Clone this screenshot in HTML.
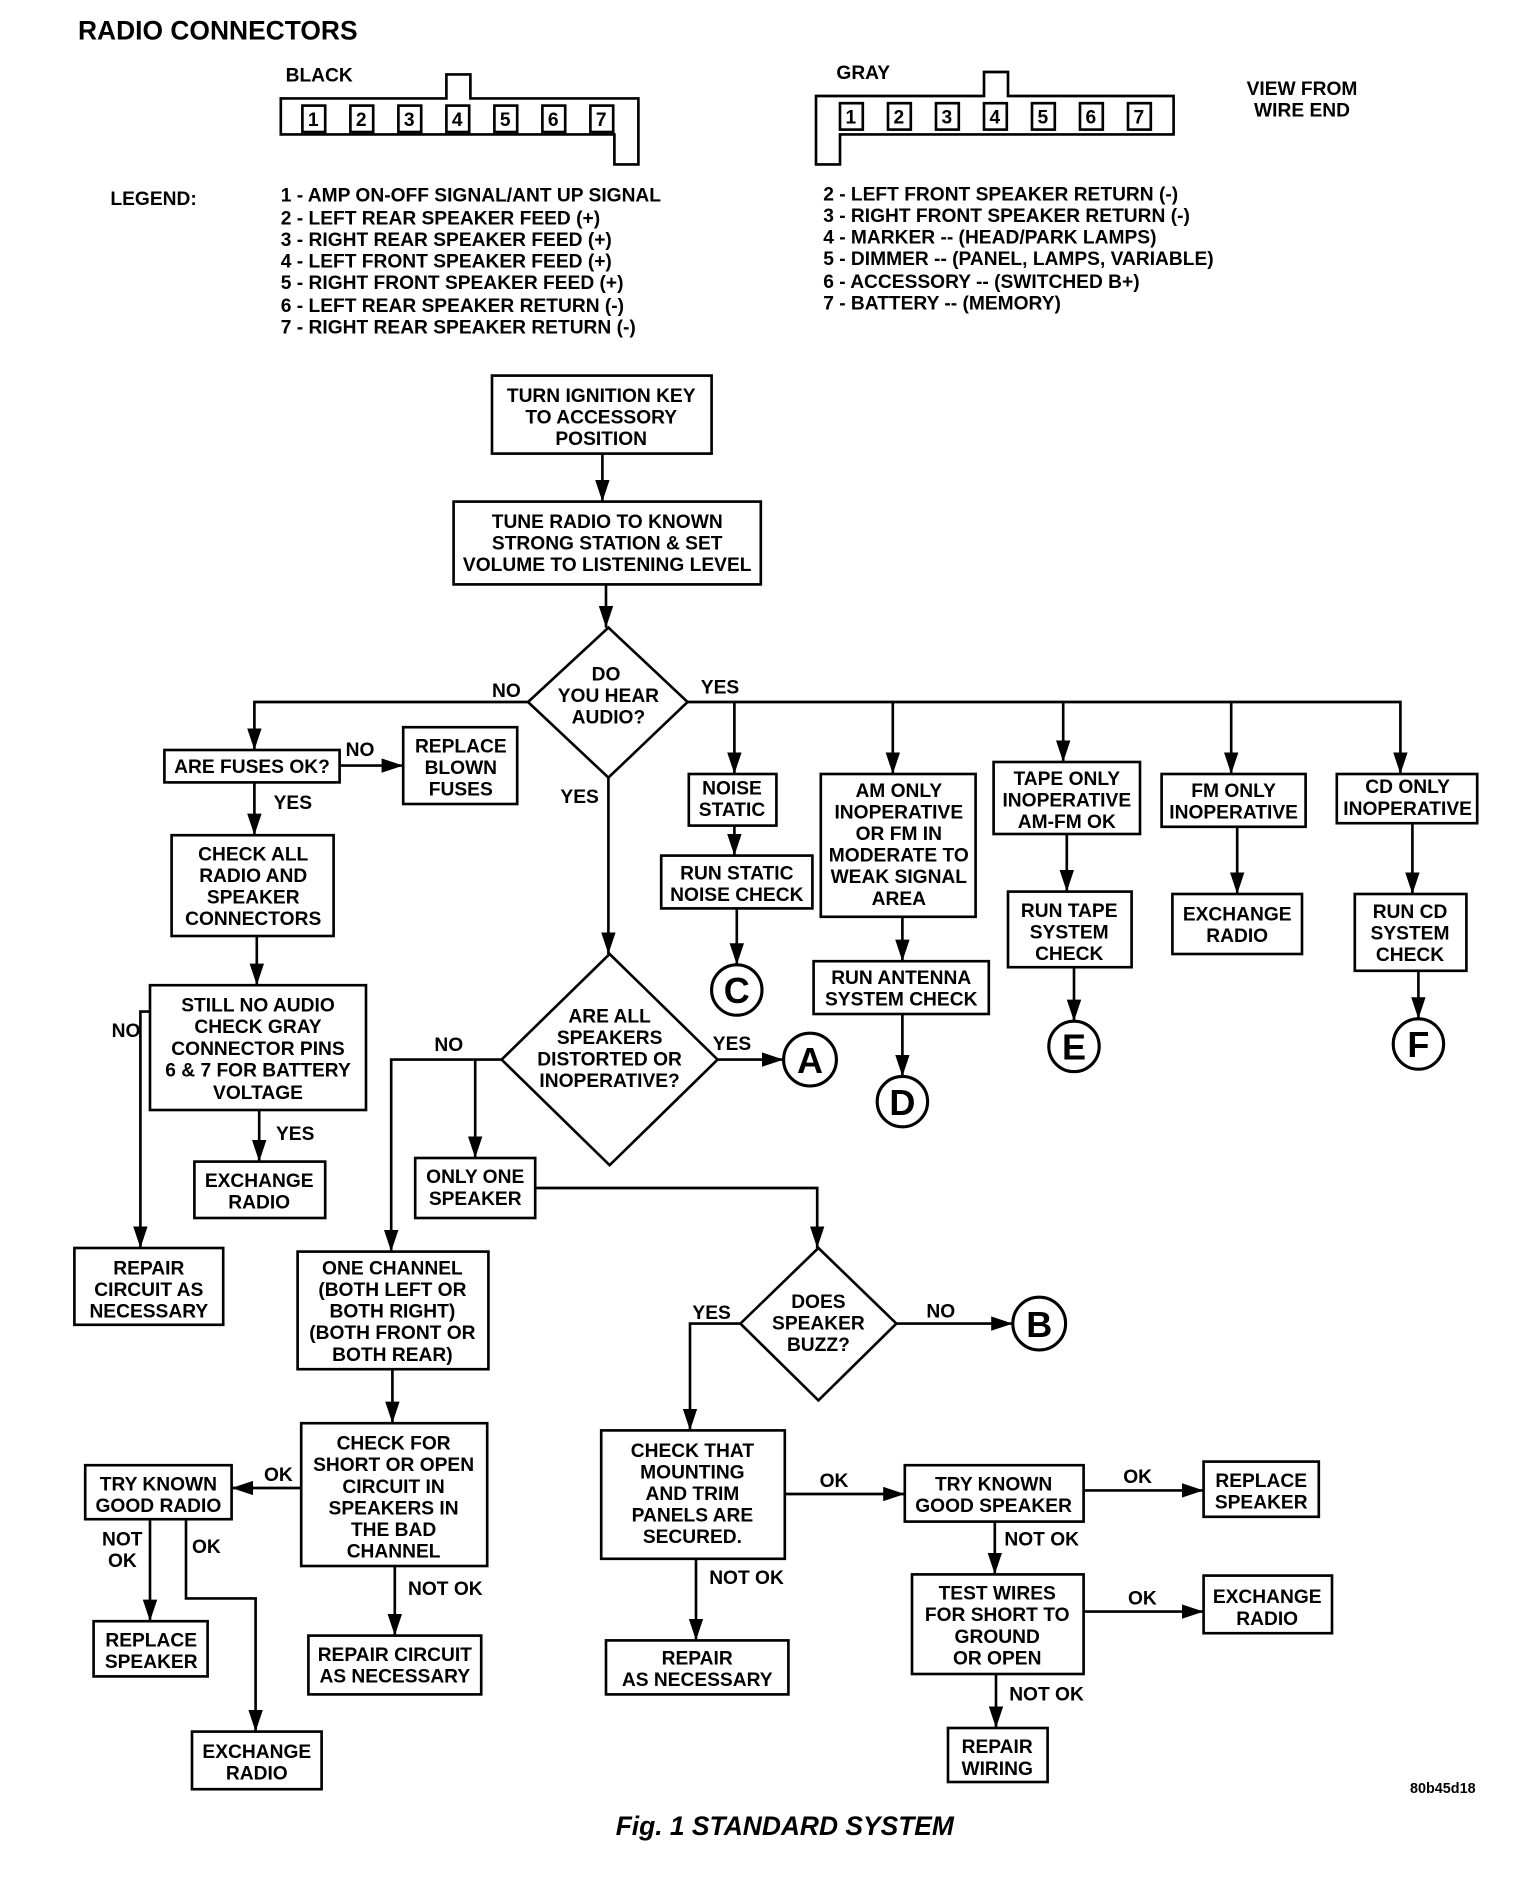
<!DOCTYPE html>
<html><head><meta charset="utf-8"><style>
html,body{margin:0;padding:0;background:#fff;}
svg{display:block;}
text{font-family:"Liberation Sans Narrow","Liberation Sans",Arial,sans-serif;font-weight:bold;font-size:16px;fill:#000;}
.c{text-anchor:middle;}
text.big{font-size:30px;font-family:"Liberation Sans",sans-serif;}
.r{fill:none;stroke:#000;stroke-width:2.2;}
.l{fill:none;stroke:#000;stroke-width:2.2;}
</style></head><body>
<svg width="1536" height="1890" viewBox="0 0 1280 1575" xmlns="http://www.w3.org/2000/svg">
<defs>
<marker id="b" viewBox="0 0 18 12" refX="18" refY="6" markerWidth="18" markerHeight="12" markerUnits="userSpaceOnUse" orient="auto"><path d="M0,0 L18,6 L0,12 Z" fill="#000"/></marker></defs>

<text x="65" y="33" style="font-size:22px;font-family:'Liberation Sans',sans-serif">RADIO CONNECTORS</text>
<text x="238" y="68">BLACK</text>
<path class="r" d="M234,82 H372 V62 H392 V82 H532 V137 H512 V112 H234 Z"/>
<g class="r">
<rect x="252" y="88" width="19" height="22"/><rect x="292" y="88" width="19" height="22"/><rect x="332" y="88" width="19" height="22"/><rect x="372" y="88" width="19" height="22"/><rect x="412" y="88" width="19" height="22"/><rect x="452" y="88" width="19" height="22"/><rect x="492" y="88" width="19" height="22"/>
</g>
<g class="c" style="font-weight:normal"><text x="261" y="105">1</text><text x="301" y="105">2</text><text x="341" y="105">3</text><text x="381" y="105">4</text><text x="421" y="105">5</text><text x="461" y="105">6</text><text x="501" y="105">7</text></g>
<text x="697" y="66">GRAY</text>
<path class="r" d="M680,80 H820 V60 H840 V80 H978 V112 H700 V137 H680 Z"/>
<g class="r">
<rect x="700" y="86" width="19" height="22"/><rect x="740" y="86" width="19" height="22"/><rect x="780" y="86" width="19" height="22"/><rect x="820" y="86" width="19" height="22"/><rect x="860" y="86" width="19" height="22"/><rect x="900" y="86" width="19" height="22"/><rect x="940" y="86" width="19" height="22"/>
</g>
<g class="c" style="font-weight:normal"><text x="709" y="103">1</text><text x="749" y="103">2</text><text x="789" y="103">3</text><text x="829" y="103">4</text><text x="869" y="103">5</text><text x="909" y="103">6</text><text x="949" y="103">7</text></g>
<text class="c" x="1085" y="79">VIEW FROM</text><text class="c" x="1085" y="97">WIRE END</text>
<text x="92" y="171">LEGEND:</text>
<g>
<text x="234" y="168">1 - AMP ON-OFF SIGNAL/ANT UP SIGNAL</text>
<text x="234" y="187">2 - LEFT REAR SPEAKER FEED (+)</text>
<text x="234" y="205">3 - RIGHT REAR SPEAKER FEED (+)</text>
<text x="234" y="223">4 - LEFT FRONT SPEAKER FEED (+)</text>
<text x="234" y="241">5 - RIGHT FRONT SPEAKER FEED (+)</text>
<text x="234" y="260">6 - LEFT REAR SPEAKER RETURN (-)</text>
<text x="234" y="278">7 - RIGHT REAR SPEAKER RETURN (-)</text>
<text x="686" y="167">2 - LEFT FRONT SPEAKER RETURN (-)</text>
<text x="686" y="185">3 - RIGHT FRONT SPEAKER RETURN (-)</text>
<text x="686" y="203">4 - MARKER -- (HEAD/PARK LAMPS)</text>
<text x="686" y="221">5 - DIMMER -- (PANEL, LAMPS, VARIABLE)</text>
<text x="686" y="240">6 - ACCESSORY -- (SWITCHED B+)</text>
<text x="686" y="258">7 - BATTERY -- (MEMORY)</text>
</g>

<g class="r">
<rect x="410" y="313" width="183" height="65"/>
<rect x="378" y="418" width="256" height="69"/>
<path d="M507,523 L573,585 L507,648 L440,585 Z"/>
<rect x="137" y="625" width="146" height="27"/>
<rect x="336" y="606" width="95" height="64"/>
<rect x="143" y="696" width="135" height="84"/>
<rect x="125" y="821" width="180" height="104"/>
<rect x="162" y="968" width="109" height="47"/>
<rect x="62" y="1040" width="124" height="64"/>
<path d="M508,795 L598,883 L508,971 L418,883 Z"/>
<rect x="346" y="965" width="100" height="50"/>
<path d="M682,1040 L747,1103 L682,1167 L617,1103 Z"/>
<rect x="501" y="1192" width="153" height="107"/>
<rect x="754" y="1221" width="149" height="47"/>
<rect x="1003" y="1218" width="96" height="46"/>
<rect x="760" y="1312" width="143" height="83"/>
<rect x="1003" y="1313" width="107" height="48"/>
<rect x="790" y="1440" width="83" height="45"/>
<rect x="505" y="1367" width="152" height="45"/>
<rect x="248" y="1043" width="159" height="98"/>
<rect x="251" y="1186" width="155" height="119"/>
<rect x="71" y="1221" width="122" height="45"/>
<rect x="78" y="1351" width="95" height="46"/>
<rect x="160" y="1443" width="108" height="48"/>
<rect x="257" y="1363" width="144" height="49"/>
<rect x="574" y="645" width="73" height="43"/>
<rect x="551" y="713" width="126" height="44"/>
<rect x="684" y="645" width="129" height="119"/>
<rect x="678" y="801" width="146" height="44"/>
<rect x="828" y="635" width="122" height="60"/>
<rect x="840" y="743" width="103" height="63"/>
<rect x="968" y="645" width="120" height="44"/>
<rect x="977" y="745" width="108" height="50"/>
<rect x="1114" y="645" width="117" height="41"/>
<rect x="1129" y="745" width="93" height="64"/>
</g>
<g fill="none" stroke="#000" stroke-width="2.6">
<circle cx="614" cy="825" r="21"/><circle cx="752" cy="918" r="21"/><circle cx="895" cy="872" r="21"/><circle cx="1182" cy="870" r="21"/><circle cx="675" cy="883" r="22"/><circle cx="866" cy="1103" r="22"/>
</g>

<g class="l" marker-end="url(#b)">
<path d="M502,378 V418"/>
<path d="M505,487 V523"/>
<path d="M440,585 H212 V625"/>
<path d="M573,585 H1167 V645"/>
<path d="M612,585 V645"/><path d="M744,585 V645"/><path d="M886,585 V635"/><path d="M1026,585 V645"/>
<path d="M507,648 V795"/>
<path d="M283,638 H336"/>
<path d="M212,652 V696"/>
<path d="M214,780 V821"/>
<path d="M125,843 H117 V1040"/>
<path d="M216,925 V968"/>
<path d="M598,883 H653"/>
<path d="M418,883 H326 V1043"/>
<path d="M396,883 V965"/>
<path d="M446,990 H681 V1040"/>
<path d="M747,1103 H844"/>
<path d="M617,1103 H575 V1192"/>
<path d="M654,1245 H754"/>
<path d="M903,1242 H1003"/>
<path d="M829,1268 V1312"/>
<path d="M903,1343 H1003"/>
<path d="M830,1395 V1440"/>
<path d="M580,1299 V1367"/>
<path d="M327,1141 V1186"/>
<path d="M251,1240 H193"/>
<path d="M125,1266 V1351"/>
<path d="M155,1266 V1332 H213 V1443"/>
<path d="M329,1305 V1363"/>
<path d="M612,688 V713"/>
<path d="M614,757 V804"/>
<path d="M752,764 V801"/>
<path d="M752,845 V897"/>
<path d="M889,695 V743"/>
<path d="M895,806 V851"/>
<path d="M1031,689 V745"/>
<path d="M1177,686 V745"/>
<path d="M1182,809 V849"/>
</g>

<g class="c">
<text x="501" y="335">TURN IGNITION KEY</text><text x="501" y="353">TO ACCESSORY</text><text x="501" y="371">POSITION</text>
<text x="506" y="440">TUNE RADIO TO KNOWN</text><text x="506" y="458">STRONG STATION &amp; SET</text><text x="506" y="476">VOLUME TO LISTENING LEVEL</text>
<text x="505" y="567">DO</text><text x="507" y="585">YOU HEAR</text><text x="507" y="603">AUDIO?</text>
<text x="210" y="644">ARE FUSES OK?</text>
<text x="384" y="627">REPLACE</text><text x="384" y="645">BLOWN</text><text x="384" y="663">FUSES</text>
<text x="211" y="717">CHECK ALL</text><text x="211" y="735">RADIO AND</text><text x="211" y="753">SPEAKER</text><text x="211" y="771">CONNECTORS</text>
<text x="215" y="843">STILL NO AUDIO</text><text x="215" y="861">CHECK GRAY</text><text x="215" y="879">CONNECTOR PINS</text><text x="215" y="897">6 &amp; 7 FOR BATTERY</text><text x="215" y="916">VOLTAGE</text>
<text x="216" y="989">EXCHANGE</text><text x="216" y="1007">RADIO</text>
<text x="124" y="1062">REPAIR</text><text x="124" y="1080">CIRCUIT AS</text><text x="124" y="1098">NECESSARY</text>
<text x="508" y="852">ARE ALL</text><text x="508" y="870">SPEAKERS</text><text x="508" y="888">DISTORTED OR</text><text x="508" y="906">INOPERATIVE?</text>
<text x="396" y="986">ONLY ONE</text><text x="396" y="1004">SPEAKER</text>
<text x="682" y="1090">DOES</text><text x="682" y="1108">SPEAKER</text><text x="682" y="1126">BUZZ?</text>
<text x="577" y="1214">CHECK THAT</text><text x="577" y="1232">MOUNTING</text><text x="577" y="1250">AND TRIM</text><text x="577" y="1268">PANELS ARE</text><text x="577" y="1286">SECURED.</text>
<text x="828" y="1242">TRY KNOWN</text><text x="828" y="1260">GOOD SPEAKER</text>
<text x="1051" y="1239">REPLACE</text><text x="1051" y="1257">SPEAKER</text>
<text x="831" y="1333">TEST WIRES</text><text x="831" y="1351">FOR SHORT TO</text><text x="831" y="1369">GROUND</text><text x="831" y="1387">OR OPEN</text>
<text x="1056" y="1336">EXCHANGE</text><text x="1056" y="1354">RADIO</text>
<text x="831" y="1461">REPAIR</text><text x="831" y="1479">WIRING</text>
<text x="581" y="1387">REPAIR</text><text x="581" y="1405">AS NECESSARY</text>
<text x="327" y="1062">ONE CHANNEL</text><text x="327" y="1080">(BOTH LEFT OR</text><text x="327" y="1098">BOTH RIGHT)</text><text x="327" y="1116">(BOTH FRONT OR</text><text x="327" y="1134">BOTH REAR)</text>
<text x="328" y="1208">CHECK FOR</text><text x="328" y="1226">SHORT OR OPEN</text><text x="328" y="1244">CIRCUIT IN</text><text x="328" y="1262">SPEAKERS IN</text><text x="328" y="1280">THE BAD</text><text x="328" y="1298">CHANNEL</text>
<text x="132" y="1242">TRY KNOWN</text><text x="132" y="1260">GOOD RADIO</text>
<text x="126" y="1372">REPLACE</text><text x="126" y="1390">SPEAKER</text>
<text x="214" y="1465">EXCHANGE</text><text x="214" y="1483">RADIO</text>
<text x="329" y="1384">REPAIR CIRCUIT</text><text x="329" y="1402">AS NECESSARY</text>
<text x="610" y="662">NOISE</text><text x="610" y="680">STATIC</text>
<text x="614" y="733">RUN STATIC</text><text x="614" y="751">NOISE CHECK</text>
<text x="749" y="664">AM ONLY</text><text x="749" y="682">INOPERATIVE</text><text x="749" y="700">OR FM IN</text><text x="749" y="718">MODERATE TO</text><text x="749" y="736">WEAK SIGNAL</text><text x="749" y="754">AREA</text>
<text x="751" y="820">RUN ANTENNA</text><text x="751" y="838">SYSTEM CHECK</text>
<text x="889" y="654">TAPE ONLY</text><text x="889" y="672">INOPERATIVE</text><text x="889" y="690">AM-FM OK</text>
<text x="891" y="764">RUN TAPE</text><text x="891" y="782">SYSTEM</text><text x="891" y="800">CHECK</text>
<text x="1028" y="664">FM ONLY</text><text x="1028" y="682">INOPERATIVE</text>
<text x="1031" y="767">EXCHANGE</text><text x="1031" y="785">RADIO</text>
<text x="1173" y="661">CD ONLY</text><text x="1173" y="679">INOPERATIVE</text>
<text x="1175" y="765">RUN CD</text><text x="1175" y="783">SYSTEM</text><text x="1175" y="801">CHECK</text>
<text class="big" x="614" y="836">C</text><text class="big" x="752" y="929">D</text><text class="big" x="895" y="883">E</text><text class="big" x="1182" y="881">F</text><text class="big" x="675" y="894">A</text><text class="big" x="866" y="1114">B</text>
</g>

<g>
<text x="410" y="581">NO</text><text x="584" y="578">YES</text><text x="467" y="669">YES</text>
<text x="288" y="630">NO</text><text x="228" y="674">YES</text>
<text x="93" y="864">NO</text><text x="230" y="950">YES</text>
<text x="594" y="875">YES</text><text x="362" y="876">NO</text>
<text x="772" y="1098">NO</text><text x="577" y="1099">YES</text>
<text x="683" y="1239">OK</text><text x="936" y="1236">OK</text>
<text x="837" y="1288">NOT OK</text><text x="940" y="1337">OK</text><text x="841" y="1417">NOT OK</text>
<text x="591" y="1320">NOT OK</text>
<text x="220" y="1234">OK</text>
<text x="85" y="1288">NOT</text><text x="90" y="1306">OK</text>
<text x="160" y="1294">OK</text>
<text x="340" y="1329">NOT OK</text>
</g>
<text x="1175" y="1494" style="font-size:12px">80b45d18</text>
<text x="654" y="1529" class="c" style="font-size:22px;font-style:italic;font-family:'Liberation Sans',sans-serif">Fig. 1 STANDARD SYSTEM</text>
</svg>
</body></html>
